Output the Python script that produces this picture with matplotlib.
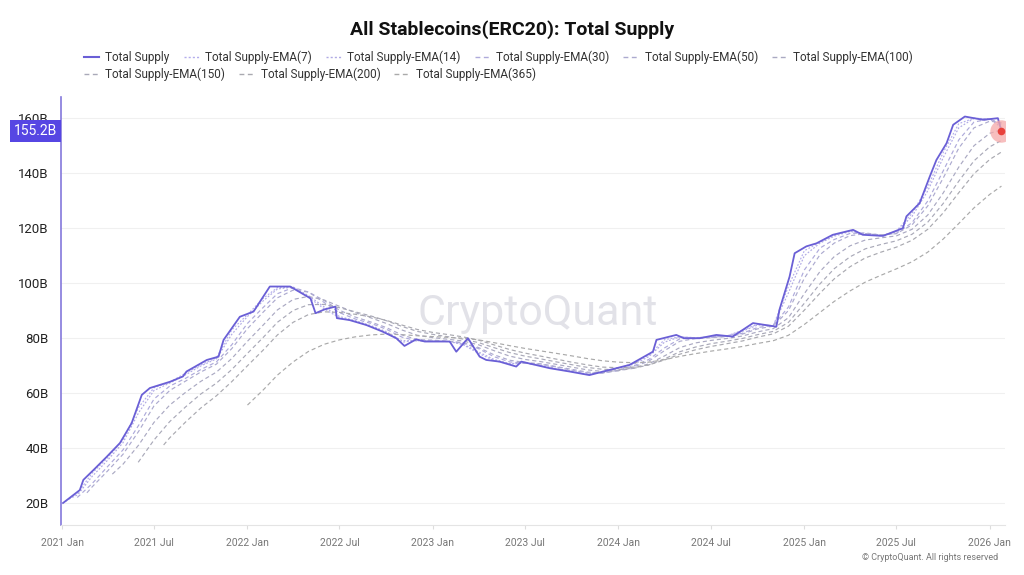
import pandas as pd
import matplotlib
matplotlib.use("Agg")
import matplotlib.pyplot as plt
from matplotlib.lines import Line2D
from matplotlib.transforms import blended_transform_factory

plt.rcParams['font.family'] = ['Roboto', 'DejaVu Sans']

### Data (billions USD)
supply_dates = [
    "2021-01-03", "2021-02-05", "2021-02-12", "2021-03-04", "2021-03-30", "2021-04-25",
    "2021-05-18", "2021-06-07", "2021-06-23", "2021-08-02", "2021-08-27", "2021-09-03",
    "2021-10-13", "2021-11-05", "2021-11-15", "2021-12-17", "2022-01-13", "2022-02-01",
    "2022-02-14", "2022-03-26", "2022-05-05", "2022-05-15", "2022-06-02", "2022-06-23",
    "2022-06-26", "2022-07-21", "2022-08-23", "2022-09-24", "2022-10-21", "2022-11-06",
    "2022-11-29", "2022-12-16", "2023-02-03", "2023-02-16", "2023-03-11", "2023-04-03",
    "2023-04-16", "2023-05-12", "2023-06-14", "2023-06-24", "2023-08-19", "2023-09-27",
    "2023-11-05", "2023-12-15", "2024-01-23", "2024-02-15", "2024-03-09", "2024-03-16",
    "2024-04-24", "2024-05-09", "2024-06-09", "2024-07-12", "2024-08-13", "2024-09-22",
    "2024-11-07", "2024-11-13", "2024-12-03", "2024-12-13", "2025-01-05", "2025-01-25",
    "2025-02-26", "2025-04-07", "2025-04-26", "2025-06-05", "2025-07-14", "2025-07-21",
    "2025-08-16", "2025-09-05", "2025-09-18", "2025-10-08", "2025-10-21", "2025-11-13",
    "2025-12-19", "2026-01-17", "2026-01-24",
]
supply_values = [
    20.0, 24.7, 28.4, 32.0, 36.8, 41.8,
    49.0, 59.3, 61.8, 64.1, 66.0, 67.8,
    72.0, 73.2, 79.3, 87.7, 89.6, 95.0,
    98.7, 98.7, 94.4, 89.0, 90.4, 91.4,
    87.2, 86.5, 84.7, 82.3, 79.9, 77.1,
    79.5, 78.7, 78.7, 75.0, 79.9, 73.2,
    72.0, 71.4, 69.6, 71.4, 69.0, 67.8,
    66.5, 68.4, 70.2, 72.6, 75.0, 79.3,
    81.1, 79.9, 79.9, 81.1, 80.5, 85.4,
    84.1, 90.2, 102.3, 110.8, 113.3, 114.4,
    117.5, 119.3, 117.5, 117.1, 119.9, 124.2,
    129.0, 138.7, 144.7, 150.8, 157.5, 160.5,
    159.3, 159.9, 155.2,
]

# EMA lines: first point, then values at month starts up to 2026-01, then last day
month_starts = pd.date_range("2021-01-01", "2026-01-01", freq="MS")
last_date = "2026-01-24"

ema7_start = ("2021-01-08", 20.6)
ema7 = [23.6, 30.8, 36.5, 42.9, 54.8, 61.9, 63.9, 67.2, 70.2, 72.8,
        82.9, 88.5, 94.4, 98.3, 98.5, 94.8, 90.6, 87.3, 86.1, 84.2,
        82.0, 78.4, 79.3, 78.8, 78.7, 77.6, 74.4, 71.8, 70.5, 70.9,
        69.9, 68.7, 67.8, 66.7, 67.6, 69.0, 70.8, 73.7, 79.4, 80.4,
        80.0, 80.5, 80.7, 82.8, 85.0, 84.4, 98.9, 111.7, 114.8, 117.3,
        118.9, 117.7, 117.1, 118.8, 125.3, 135.0, 147.3, 157.9, 159.9, 159.6]
ema7_last = 156.5

ema14_start = ("2021-01-15", 21.5)
ema14 = [23.0, 29.6, 35.6, 41.9, 52.9, 60.9, 63.6, 66.6, 69.8, 72.4,
         81.3, 87.8, 93.5, 97.8, 98.5, 95.4, 91.3, 87.8, 86.3, 84.5,
         82.3, 79.0, 79.0, 78.9, 78.7, 77.8, 74.9, 72.2, 70.7, 70.9,
         70.1, 68.9, 67.9, 66.9, 67.4, 68.8, 70.5, 73.2, 78.5, 80.4,
         80.1, 80.4, 80.7, 82.4, 84.7, 84.5, 96.5, 109.9, 114.5, 117.0,
         118.7, 117.9, 117.2, 118.5, 124.2, 133.5, 145.4, 156.4, 159.8, 159.7]
ema14_last = 157.5

ema30_start = ("2021-01-31", 22.0)
ema30 = [27.0, 33.3, 39.3, 48.3, 57.8, 62.5, 65.3, 68.5, 71.3,
         77.5, 85.3, 91.1, 96.1, 98.3, 96.7, 92.9, 89.2, 86.9, 85.3,
         83.2, 80.3, 78.9, 79.0, 78.7, 78.2, 76.1, 73.2, 71.3, 70.8,
         70.5, 69.4, 68.3, 67.3, 67.2, 68.3, 69.9, 72.2, 76.4, 79.7,
         80.1, 80.2, 80.6, 81.7, 83.8, 84.6, 91.3, 104.7, 112.7, 115.8,
         118.0, 118.2, 117.4, 118.0, 121.9, 129.8, 140.6, 152.0, 158.5, 159.6]
ema30_last = 157.9

ema50_start = ("2021-02-19", 23.7)
ema50 = [25.8, 31.7, 37.7, 46.1, 55.3, 60.9, 64.3, 67.6, 70.5, 76.1,
         83.4, 89.4, 94.6, 97.4, 96.7, 93.6, 90.1, 87.6, 85.8, 83.8,
         81.1, 79.4, 79.2, 78.8, 78.3, 76.5, 73.9, 71.9, 71.1, 70.6,
         69.6, 68.6, 67.6, 67.3, 68.1, 69.5, 71.6, 75.4, 78.8, 79.8,
         80.1, 80.5, 81.4, 83.3, 84.3, 90.0, 101.7, 110.3, 114.5, 117.2,
         117.9, 117.5, 117.9, 121.1, 128.0, 138.0, 149.0, 156.4, 158.8]
ema50_last = 158.3

ema100_start = ("2021-04-10", 30.5)
ema100 = [34.1, 41.1, 49.3, 55.6, 60.2, 64.2, 67.6, 72.5, 78.8, 84.7,
          90.2, 94.0, 95.1, 93.8, 91.5, 89.2, 87.3, 85.3, 82.9, 81.0,
          80.1, 79.5, 78.9, 77.5, 75.4, 73.4, 72.2, 71.4, 70.4, 69.4,
          68.4, 67.8, 68.1, 69.0, 70.6, 73.5, 76.5, 78.2, 79.1, 79.8,
          80.7, 82.2, 83.4, 87.4, 96.1, 104.2, 109.6, 113.5, 115.6, 116.4,
          117.1, 119.5, 124.7, 132.6, 142.1, 149.9, 154.4]
ema100_last = 155.7

ema150_start = ("2021-05-31", 34.8)
ema150 = [42.9, 49.6, 54.9, 59.6, 63.6, 68.5, 74.4, 80.2, 85.7, 90.0,
          92.1, 92.2, 91.0, 89.5, 88.0, 86.3, 84.2, 82.4, 81.3, 80.4,
          79.6, 78.3, 76.5, 74.7, 73.4, 72.4, 71.3, 70.3, 69.3, 68.6,
          68.5, 69.0, 70.2, 72.4, 75.0, 76.7, 77.9, 78.8, 79.8, 81.2,
          82.4, 85.7, 92.6, 99.7, 105.2, 109.5, 112.4, 114.0, 115.3, 117.7,
          122.1, 128.8, 137.0, 144.4, 149.5]
ema150_last = 151.8

ema200_start = ("2021-07-20", 41.1)
ema200 = [43.7, 49.4, 54.5, 59.0, 64.1, 69.9, 75.6, 81.1, 85.7, 88.5,
          89.5, 89.3, 88.6, 87.7, 86.4, 84.7, 83.1, 82.0, 81.2, 80.4,
          79.2, 77.5, 75.8, 74.5, 73.4, 72.3, 71.2, 70.2, 69.4, 69.2,
          69.4, 70.2, 72.0, 74.1, 75.7, 76.9, 77.9, 78.9, 80.3, 81.5,
          84.3, 90.1, 96.3, 101.5, 105.9, 109.1, 111.2, 113.0, 115.5, 119.5,
          125.4, 132.8, 139.7, 144.9]
ema200_last = 147.6

ema365_start = ("2022-01-01", 55.6)
ema365 = [61.1, 66.5, 71.3, 75.1, 77.7, 79.3, 80.4, 81.1, 81.4, 81.2,
          80.8, 80.5, 80.2, 79.9, 79.3, 78.3, 77.2, 76.2, 75.3, 74.4,
          73.5, 72.5, 71.7, 71.2, 71.0, 71.2, 72.1, 73.3, 74.3, 75.2,
          76.0, 76.9, 78.0, 79.0, 81.0, 84.9, 89.3, 93.3, 97.1, 100.3,
          102.8, 105.1, 107.7, 111.2, 115.9, 121.6, 127.3, 132.2]
ema365_last = 135.2

ema_names = ["EMA(7)", "EMA(14)", "EMA(30)", "EMA(50)", "EMA(100)",
             "EMA(150)", "EMA(200)", "EMA(365)"]
ema_series = [(ema7_start, ema7, ema7_last), (ema14_start, ema14, ema14_last),
              (ema30_start, ema30, ema30_last), (ema50_start, ema50, ema50_last),
              (ema100_start, ema100, ema100_last), (ema150_start, ema150, ema150_last),
              (ema200_start, ema200, ema200_last), (ema365_start, ema365, ema365_last)]
ema_colors = ["#b3adec", "#b0aae4", "#aeaadb", "#acaacf", "#aaa9c2",
              "#a9a9b8", "#a9a9b0", "#aaaaaa"]
ema_dashes = [(1.5, 1.5), (1.5, 1.5), (3.5, 2.5), (3.5, 2.5), (3.5, 2.5),
              (3.5, 2.5), (3.5, 2.5), (3.5, 2.5)]
main_color = "#6a5fd6"

### Figure
fig = plt.figure(figsize=(10.24, 5.75), dpi=100)
ax = fig.add_axes([61 / 1024, 1 - 525 / 575, 944 / 1024, 428 / 575])

for (start, vals, last), col, dsh in zip(ema_series, ema_colors, ema_dashes):
    xs = [pd.Timestamp(start[0])] + list(month_starts[-len(vals):]) + [pd.Timestamp(last_date)]
    ys = [start[1]] + vals + [last]
    ax.plot(xs, ys, color=col, lw=0.85, dashes=dsh, zorder=2)

ax.plot(pd.to_datetime(supply_dates), supply_values, color=main_color, lw=1.3, zorder=3)

# last value marker
ax.scatter([pd.Timestamp(supply_dates[-1])], [supply_values[-1]], s=260,
           color="#f5a9a9", alpha=0.75, zorder=4, linewidths=0)
ax.scatter([pd.Timestamp(supply_dates[-1])], [supply_values[-1]], s=30,
           color="#e8413c", zorder=5, linewidths=0)

ax.set_xlim(pd.Timestamp("2020-12-30"), pd.Timestamp("2026-01-31"))
ax.set_ylim(12, 167.6)

ax.set_yticks([20, 40, 60, 80, 100, 120, 140, 160])
ax.set_yticklabels(["20B", "40B", "60B", "80B", "100B", "120B", "140B", "160B"])
ax.tick_params(axis="y", length=0, labelsize=9.5, labelcolor="#222222", pad=9)
ax.grid(axis="y", color="#f0f0f0", lw=0.8)
ax.set_axisbelow(True)

xt = pd.date_range("2021-01-01", "2026-01-01", freq="6MS")
ax.set_xticks(xt)
ax.set_xticklabels([d.strftime("%Y %b") for d in xt])
ax.tick_params(axis="x", length=3, color="#dddddd", labelsize=7.5,
               labelcolor="#777777", pad=6)

for s in ["top", "right"]:
    ax.spines[s].set_visible(False)
ax.spines["left"].set_color("#8478dc")
ax.spines["left"].set_linewidth(1.2)
ax.spines["bottom"].set_color("#e4e4e4")

# current value tag on the y axis
tr = blended_transform_factory(ax.transAxes, ax.transData)
ax.text(-0.004, supply_values[-1], "155.2B", transform=tr, ha="right", va="center",
        color="white", fontsize=10, zorder=6,
        bbox=dict(boxstyle="square,pad=0.3", fc="#5646e3", ec="none"))

# watermark
ax.text(0.505, 0.495, "CryptoQuant", transform=ax.transAxes, ha="center", va="center",
        fontsize=31, color="#e2e2e8", zorder=1)

fig.text(0.5, 1 - 30 / 575, "All Stablecoins(ERC20): Total Supply", ha="center",
         va="center", fontsize=14, fontweight="bold", color="#111111")

# legend in two rows
handles = [Line2D([], [], color=main_color, lw=1.5)]
labels = ["Total Supply"]
for name, col, dsh in zip(ema_names, ema_colors, ema_dashes):
    handles.append(Line2D([], [], color=col, lw=1, dashes=dsh))
    labels.append("Total Supply-" + name)

leg_kw = dict(frameon=False, fontsize=8.5, handlelength=1.3, handletextpad=0.5,
              columnspacing=1.2, labelcolor="#333333", borderaxespad=0, borderpad=0)
fig.legend(handles[:6], labels[:6], loc="upper left", ncol=6,
           bbox_to_anchor=(84 / 1024, 1 - 51 / 575), **leg_kw)
fig.legend(handles[6:], labels[6:], loc="upper left", ncol=3,
           bbox_to_anchor=(84 / 1024, 1 - 68 / 575), **leg_kw)

fig.text(998 / 1024, 1 - 558 / 575, "© CryptoQuant. All rights reserved", ha="right",
         va="center", fontsize=6.5, color="#777777")

fig.savefig("out.png", dpi=100)
